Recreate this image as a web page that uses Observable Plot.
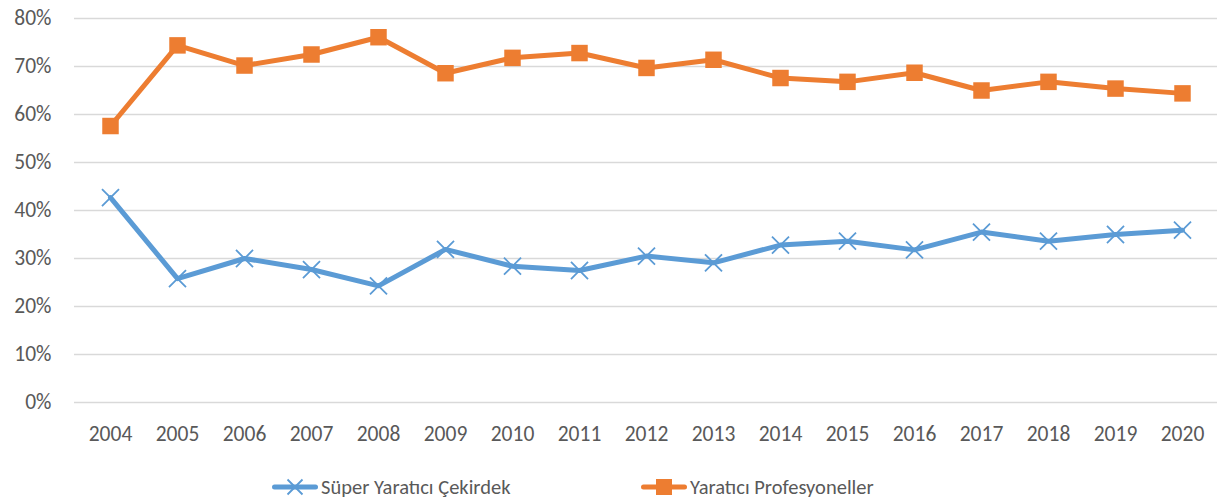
<!DOCTYPE html>
<html>
<head>
<meta charset="utf-8">
<script src="https://cdn.jsdelivr.net/npm/d3@7"></script>
<script src="https://cdn.jsdelivr.net/npm/@observablehq/plot@0.6"></script>
<style>
  html, body { margin: 0; padding: 0; background: #fff; }
  body { width: 1217px; height: 502px; overflow: hidden; font-family: Carlito, "Liberation Sans Narrow", "Open Sans", sans-serif; }
  #legend { position: relative; height: 47px; color: #595959; font-size: 20.5px; }
  .item { position: absolute; top: 20px; display: flex; align-items: center; height: 24px; }
  .item svg { display: block; }
  .item span { margin-left: 3px; white-space: nowrap; }
</style>
</head>
<body>
<div id="chart"></div>
<div id="legend"></div>
<script>
const years = ["2004","2005","2006","2007","2008","2009","2010","2011","2012","2013","2014","2015","2016","2017","2018","2019","2020"];
const seriesNames = ["Süper Yaratıcı Çekirdek", "Yaratıcı Profesyoneller"];
const superCreativeCore = [0.427,0.258,0.300,0.277,0.243,0.319,0.284,0.275,0.305,0.291,0.328,0.336,0.318,0.355,0.336,0.350,0.359];
const creativeProfessionals = [0.576,0.744,0.702,0.725,0.761,0.686,0.718,0.728,0.697,0.714,0.676,0.668,0.687,0.650,0.668,0.654,0.644];
const yTicks = [0,0.1,0.2,0.3,0.4,0.5,0.6,0.7,0.8];
const colors = ["#5B9BD5", "#ED7D31"];

const blueRows = years.map((y, i) => ({year: y, value: superCreativeCore[i]}));
const orangeRows = years.map((y, i) => ({year: y, value: creativeProfessionals[i]}));

const fmt = d3.format(".0%");
const font = 'Carlito, "Liberation Sans Narrow", "Open Sans", sans-serif';

const chart = Plot.plot({
  width: 1217,
  height: 455,
  marginLeft: 74,
  marginRight: 0,
  marginTop: 18,
  marginBottom: 53,
  style: {fontFamily: font, fontSize: "21.5px", color: "#595959", background: "#fff"},
  x: {type: "point", domain: years, padding: 0.5},
  y: {domain: [0, 0.8]},
  marks: [
    Plot.gridY(yTicks, {stroke: "#d9d9d9", strokeOpacity: 1, strokeWidth: 1.3}),
    Plot.axisY(yTicks, {tickSize: 0, tickPadding: 23, tickFormat: fmt, label: null, fill: "#595959", fontSize: 21.5}),
    Plot.axisX({tickSize: 0, tickPadding: 23, label: null, fill: "#595959", fontSize: 21.5}),
    Plot.line(blueRows, {x: "year", y: "value", stroke: colors[0], strokeWidth: 5}),
    Plot.dot(blueRows, {x: "year", y: "value", symbol: "times", r: 7.8, stroke: colors[0], strokeWidth: 1.8}),
    Plot.line(orangeRows, {x: "year", y: "value", stroke: colors[1], strokeWidth: 5}),
    Plot.dot(orangeRows, {x: "year", y: "value", symbol: "square", r: 9.3, fill: colors[1], stroke: "none"})
  ]
});
document.getElementById("chart").appendChild(chart);

// Legend
const legend = document.getElementById("legend");
const lefts = [272, 641];
seriesNames.forEach((name, i) => {
  const item = document.createElement("div");
  item.className = "item";
  item.style.left = lefts[i] + "px";
  const marker = i === 0
    ? `<path d="M15.5,4.5 L30.5,19.5 M30.5,4.5 L15.5,19.5" stroke="${colors[0]}" stroke-width="1.8"/>`
    : `<rect x="15" y="4" width="16" height="16" fill="${colors[1]}"/>`;
  item.innerHTML = `<svg width="46" height="24"><line x1="2.5" y1="12" x2="43.5" y2="12" stroke="${colors[i]}" stroke-width="5" stroke-linecap="round"/>${marker}</svg><span>${name}</span>`;
  legend.appendChild(item);
});
</script>
</body>
</html>
